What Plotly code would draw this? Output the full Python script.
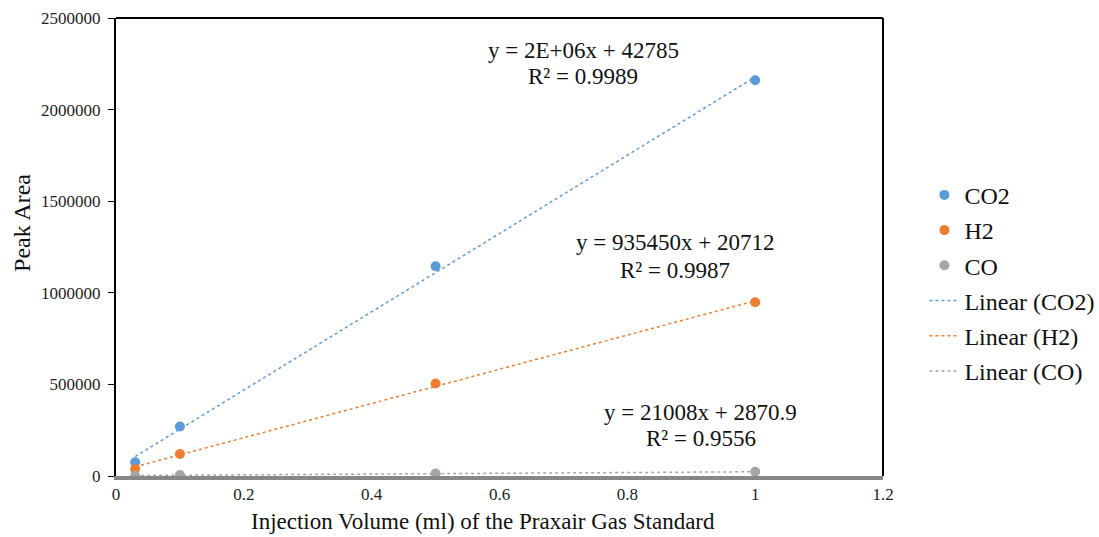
import numpy as np
import plotly.graph_objects as go

x_vals = [0.03, 0.1, 0.5, 1.0]
co2 = [75000, 270000, 1145000, 2160000]
h2 = [38000, 120000, 505000, 948000]
co = [2000, 5000, 13000, 23000]

series_names = ["CO2", "H2", "CO"]
series_colors = ["#5B9BD5", "#ED7D31", "#A5A5A5"]
eq_lines = ["y = 2E+06x + 42785", "R² = 0.9989",
            "y = 935450x + 20712", "R² = 0.9987",
            "y = 21008x + 2870.9", "R² = 0.9556"]
eq_x = [0.731, 0.731, 0.875, 0.875, 0.915, 0.915]
eq_y = [2325000, 2178000, 1272000, 1124000, 349000, 202000]

y_ticks = [0, 500000, 1000000, 1500000, 2000000, 2500000]
x_ticks = [0, 0.2, 0.4, 0.6, 0.8, 1, 1.2]
x_ticktext = ["0", "0.2", "0.4", "0.6", "0.8", "1", "1.2"]

font_family = "Liberation Serif, Times New Roman, serif"

fig = go.Figure()
data = [co2, h2, co]
for name, col, ys in zip(series_names, series_colors, data):
    fig.add_trace(go.Scatter(x=x_vals, y=ys, mode="markers", name=name,
                             legendgroup=name,
                             marker=dict(color=col, size=10)))
for name, col, ys in zip(series_names, series_colors, data):
    m, b = np.polyfit(x_vals, ys, 1)
    xs = np.array([min(x_vals), max(x_vals)])
    fig.add_trace(go.Scatter(x=xs, y=m * xs + b, mode="lines",
                             name=f"Linear ({name})", legendgroup="L" + name,
                             line=dict(color=col, width=1.5, dash="dot")))

for t, px, py in zip(eq_lines, eq_x, eq_y):
    fig.add_annotation(x=px, y=py, text=t, showarrow=False,
                       xanchor="center", yanchor="middle",
                       font=dict(family=font_family, size=23, color="#111"))

fig.add_annotation(xref="paper", yref="paper", x=0.4785, y=-0.1004,
                   text="Injection Volume (ml) of the Praxair Gas Standard",
                   showarrow=False, xanchor="center", yanchor="middle",
                   font=dict(family=font_family, size=23, color="#111"))
fig.add_annotation(xref="paper", yref="paper", x=-0.1226, y=0.5524,
                   text="Peak Area", textangle=-90,
                   showarrow=False, xanchor="center", yanchor="middle",
                   font=dict(family=font_family, size=24, color="#111"))

fig.update_layout(
    width=1099, height=537,
    margin=dict(l=116, r=216, t=18, b=61, autoexpand=False),
    plot_bgcolor="white", paper_bgcolor="white",
    font=dict(family=font_family, color="#111"),
    showlegend=True,
    legend=dict(x=1.054, y=0.662, xanchor="left", yanchor="top",
                font=dict(size=24, family=font_family, color="#111"),
                tracegroupgap=1, itemwidth=30),
    xaxis=dict(range=[0, 1.2], tickvals=x_ticks, ticktext=x_ticktext,
               showgrid=False, zeroline=False,
               showline=True, linecolor="#878787", linewidth=4,
               ticks="", tickfont=dict(size=17, family=font_family, color="#222")),
    yaxis=dict(range=[0, 2500000], tickvals=y_ticks,
               ticktext=[str(v) for v in y_ticks],
               showgrid=False, zeroline=False,
               showline=True, linecolor="black", linewidth=2,
               ticks="outside", ticklen=6, tickcolor="black",
               ticklabelstandoff=4,
               tickfont=dict(size=17, family=font_family, color="#222")),
)
fig.add_shape(type="line", xref="paper", yref="paper", x0=0, x1=1, y0=1, y1=1,
              line=dict(color="black", width=2))
fig.add_shape(type="line", xref="paper", yref="paper", x0=1, x1=1, y0=0, y1=1,
              line=dict(color="black", width=2))

fig.write_html("out.html")
